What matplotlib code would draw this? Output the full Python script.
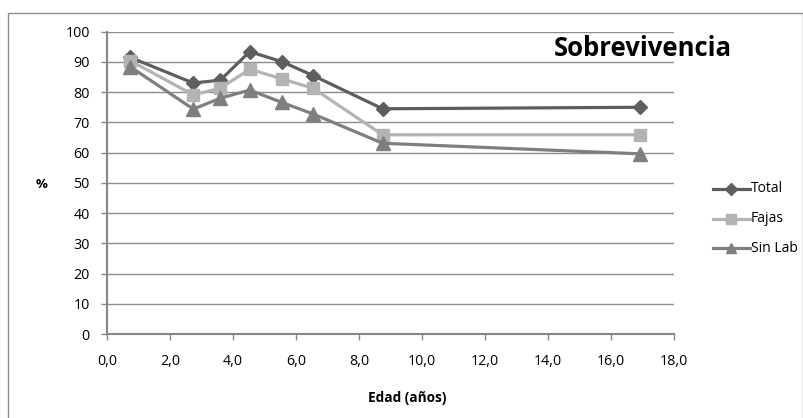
import matplotlib
matplotlib.use("Agg")
import matplotlib.pyplot as plt
from matplotlib.patches import Rectangle
from matplotlib.lines import Line2D

plt.rcParams['font.family'] = ['Open Sans', 'DejaVu Sans']

# Edad (años) y sobrevivencia (%)
edad = [0.74, 2.74, 3.6, 4.53, 5.55, 6.54, 8.75, 16.92]
total = [91.5, 83.0, 84.0, 93.4, 90.1, 85.5, 74.5, 75.0]
fajas = [90.4, 79.1, 81.3, 87.6, 84.4, 81.3, 65.9, 65.9]
sin_lab = [88.4, 74.4, 78.0, 80.7, 76.6, 72.8, 63.1, 59.6]

series = ["Total", "Fajas", "Sin Lab"]
x_ticks = [0, 2, 4, 6, 8, 10, 12, 14, 16, 18]
y_ticks = [0, 10, 20, 30, 40, 50, 60, 70, 80, 90, 100]

W, H = 804, 418
fig = plt.figure(figsize=(W / 100, H / 100), dpi=100)

# outer chart frame
fig.patches.append(Rectangle((8 / W, -0.05), (803 - 8) / W, 1.05 - 13 / H,
                             transform=fig.transFigure, fill=False,
                             edgecolor='#8c8c8c', linewidth=1.0))

ax = fig.add_axes([107 / W, 1 - 334 / H, (674 - 107) / W, (334 - 31.7) / H])

styles = {
    "Total": dict(color='#5e5e5e', marker='D', markersize=7.5),
    "Fajas": dict(color='#b3b3b3', marker='s', markersize=9.0),
    "Sin Lab": dict(color='#7f7f7f', marker='^', markersize=9.5),
}
data = {"Total": total, "Fajas": fajas, "Sin Lab": sin_lab}

for name in series:
    st = styles[name]
    ax.plot(edad, data[name], color=st['color'], linewidth=2.3,
            marker=st['marker'], markersize=st['markersize'],
            markerfacecolor=st['color'], markeredgecolor=st['color'],
            zorder=3, clip_on=False)

ax.set_xlim(0, 18)
ax.set_ylim(0, 100)
ax.set_xticks(x_ticks)
ax.set_xticklabels([f"{v:.1f}".replace('.', ',') for v in x_ticks])
ax.set_yticks(y_ticks)
ax.set_yticklabels([str(v) for v in y_ticks])

ax.grid(axis='y', color='#8c8c8c', linewidth=1.0)
ax.set_axisbelow(True)
for s in ['top', 'right']:
    ax.spines[s].set_visible(False)
for s in ['left', 'bottom']:
    ax.spines[s].set_color('#868686')
    ax.spines[s].set_linewidth(1.5)

ax.tick_params(axis='both', colors='#868686', labelcolor='#000000',
               labelsize=10.3, length=4, width=1.0)
ax.tick_params(axis='x', pad=10.5)
ax.tick_params(axis='y', pad=8.5)

fig.text(42 / W, 1 - 185 / H, '%', fontsize=9.5, fontweight='bold',
         ha='center', va='center')
fig.text(407 / W, 1 - 398 / H, 'Edad (años)', fontsize=9.8, fontweight='bold',
         ha='center', va='center')
fig.text(643 / W, 1 - 49 / H, 'Sobrevivencia', fontsize=18.5,
         fontweight='bold', ha='center', va='center')

# legend
leg_y = [189, 219, 248]
for name, y in zip(series, leg_y):
    st = styles[name]
    yf = 1 - y / H
    fig.add_artist(Line2D([713 / W, 750 / W], [yf, yf],
                          transform=fig.transFigure, color=st['color'],
                          linewidth=2.3))
    fig.add_artist(Line2D([731.5 / W], [yf], transform=fig.transFigure,
                          marker=st['marker'], markersize=st['markersize'] * 0.8,
                          color=st['color'], markerfacecolor=st['color'],
                          markeredgecolor=st['color']))
    fig.text(751 / W, yf, name, fontsize=10, ha='left', va='center')

fig.savefig('out.png', dpi=100)
